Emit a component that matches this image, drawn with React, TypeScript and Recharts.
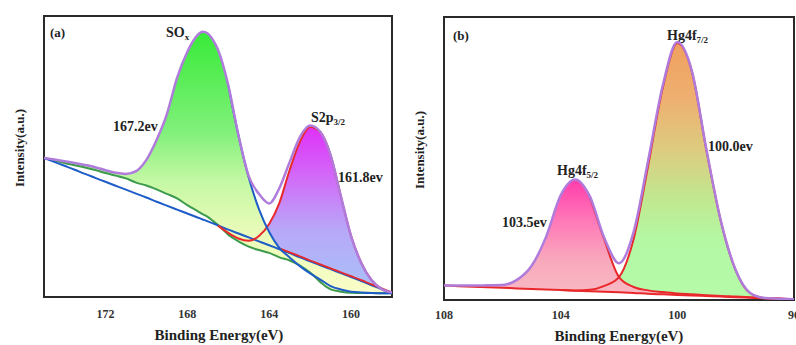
import React from 'react';
import { ComposedChart, Area, Line, XAxis, YAxis, ReferenceArea } from 'recharts';

// ---------- Panel (a): S 2p ----------
const energyA = [175, 174.5, 174, 173.5, 173, 172.5, 172, 171.5, 171, 170.5, 170, 169.5, 169, 168.5, 168, 167.75, 167.5, 167.25, 167, 166.75, 166.5, 166, 165.5, 165, 164.5, 164, 163.5, 163, 162.5, 162, 161.5, 161, 160.5, 160, 159.5, 159, 158.5, 158];
const envelopeA = [49.5, 48.9, 48.3, 47.7, 47.0, 46.2, 45.1, 44.2, 43.8, 44.8, 48.8, 55.9, 65.0, 78.0, 87.2, 90.7, 93.2, 94.4, 93.8, 91.5, 88.0, 75.4, 57.5, 43.0, 36.7, 33.3, 38.8, 48.0, 56.9, 61.0, 58.7, 50.5, 35.9, 21.7, 12.1, 6.0, 2.8, 1.6];
const baselineA = [49.5, 48.1, 46.7, 45.3, 43.8, 42.4, 41.0, 39.6, 38.2, 36.8, 35.4, 33.9, 32.5, 31.1, 29.7, 29.0, 28.3, 27.6, 26.9, 26.2, 25.5, 24.0, 22.6, 21.2, 19.8, 18.4, 17.0, 15.6, 14.1, 12.7, 11.3, 9.9, 8.5, 7.1, 5.7, 4.2, 2.8, 1.4];
const greenBgA = [49.5, 48.6, 47.7, 46.9, 46.1, 45.2, 44.1, 43.2, 42.2, 40.7, 39.7, 38.3, 36.7, 35.1, 32.7, 31.6, 30.6, 29.5, 28.5, 27.1, 25.6, 22.2, 19.8, 17.9, 16.7, 15.7, 14.1, 13.0, 11.2, 8.7, 5.3, 2.7, 1.9, 1.5, 1.4, 1.4, 1.35, 1.3];
const soxA = [49.5, 48.9, 48.3, 47.7, 47.0, 46.2, 45.1, 44.2, 43.8, 44.8, 48.8, 55.9, 65.0, 78.0, 87.2, 90.7, 93.2, 94.4, 93.8, 91.5, 88.0, 75.4, 57.5, 42.5, 31.3, 23.1, 17.4, 14.1, 11.0, 8.4, 6.2, 3.9, 2.7, 1.9, 1.6, 1.4, 1.35, 1.3];
const s2pA = [null, null, null, null, null, null, null, null, null, null, null, null, null, null, null, null, null, null, null, null, 25.4, 22.8, 20.8, 20.0, 21.7, 26.0, 33.5, 45.2, 55.2, 60.5, 58.7, 50.5, 35.9, 21.7, 12.1, 6.0, 2.8, 1.6];
const s2pBgA = [null, null, null, null, null, null, null, null, null, null, null, null, null, null, null, null, null, null, null, null, null, null, null, null, null, null, 17.3, 15.9, 14.5, 13.0, 11.6, 10.2, 8.8, 7.4, 6.0, 4.5, 3.1, 1.6];
const ticksA = [172, 168, 164, 160];

// ---------- Panel (b): Hg 4f ----------
const energyB = [108, 107.5, 107, 106.5, 106, 105.5, 105, 104.5, 104, 103.5, 103, 102.5, 102, 101.5, 101, 100.5, 100, 99.5, 99, 98.5, 98, 97.5, 97, 96.5, 96];
const envelopeB = [5.1, 5.1, 5.1, 5.2, 5.3, 7.1, 12.0, 22.3, 37.0, 42.6, 36.6, 21.8, 13.0, 24.0, 49.3, 75.8, 91.2, 80.9, 53.0, 27.6, 10.6, 2.5, 0.7, 0.45, 0.25];
const baselineB = [5.1, 4.9, 4.7, 4.5, 4.3, 4.1, 3.9, 3.7, 3.5, 3.3, 3.1, 2.9, 2.7, 2.5, 2.2, 2.0, 1.8, 1.6, 1.4, 1.2, 1.0, 0.8, 0.6, 0.4, 0.2];
const hg52B = [5.1, 5.1, 5.1, 5.2, 5.3, 7.1, 12.0, 22.3, 37.0, 42.6, 36.6, 21.2, 8.1, 4.6, 3.4, 2.8, 2.3, 2.0, 1.7, 1.4, 1.2, 0.95, 0.7, 0.5, 0.3];
const hg72B = [null, null, null, null, null, null, null, null, 3.55, 3.4, 3.6, 5.0, 8.1, 21.5, 47.5, 75.0, 90.8, 80.7, 52.8, 27.5, 10.5, 2.4, 0.65, 0.4, 0.2];
const ticksB = [108, 104, 100, 96];

const FONT = '"Liberation Serif", "Times New Roman", serif';
const PURPLE = '#b07cdc';
const BLUE = '#1e5cc8';
const GREEN = '#3c9a4c';
const RED = '#e8282a';
const FRAME = '#2a2a2a';

const rowsA = energyA.map((e, i) => ({
  e,
  env: envelopeA[i],
  base: baselineA[i],
  green: greenBgA[i],
  soxLine: e <= 166 ? soxA[i] : null,
  s2p: s2pA[i],
  s2pBg: s2pBgA[i],
  soxFill: [greenBgA[i], Math.max(soxA[i], baselineA[i])],
  s2pFill: s2pA[i] == null ? null : [baselineA[i], s2pA[i]],
}));

const rowsB = energyB.map((e, i) => ({
  e,
  env: envelopeB[i],
  base: baselineB[i],
  hg52Line: e <= 103 ? hg52B[i] : null,
  hg72: hg72B[i],
  hg52Fill: [baselineB[i], hg52B[i]],
  hg72Fill: hg72B[i] == null ? null : [baselineB[i], hg72B[i]],
}));

const tickStyle = { fontSize: 12, fontWeight: 'bold', fill: '#333', fontFamily: FONT };
const txt = { fontFamily: FONT, fontWeight: 'bold', fill: '#222' } as const;

function PanelA() {
  return (
    <ComposedChart width={400} height={345} data={rowsA} margin={{ top: 16, right: 8, bottom: 18, left: 44 }}>
      <defs>
        <linearGradient id="gSox" x1="0" y1="0" x2="0" y2="1">
          <stop offset="0%" stopColor="#38ea38" />
          <stop offset="38%" stopColor="#80f07a" />
          <stop offset="57%" stopColor="#c4f8a4" />
          <stop offset="76%" stopColor="#e8fbb8" />
          <stop offset="100%" stopColor="#fafdc8" />
        </linearGradient>
        <linearGradient id="gS2p" x1="0" y1="0" x2="0" y2="1">
          <stop offset="0%" stopColor="#e030f8" />
          <stop offset="33%" stopColor="#d070f8" />
          <stop offset="62%" stopColor="#b8a8f8" />
          <stop offset="100%" stopColor="#a8c2f8" />
        </linearGradient>
      </defs>
      <XAxis dataKey="e" type="number" domain={[158, 175]} reversed ticks={ticksA} interval={0}
        tickLine={false} axisLine={false} tickSize={0} tickMargin={12} height={30} tick={tickStyle} allowDataOverflow />
      <YAxis type="number" domain={[0, 100]} hide allowDataOverflow />
      <Area dataKey="s2pFill" type="monotone" stroke="none" fill="url(#gS2p)" fillOpacity={1} isAnimationActive={false} />
      <Area dataKey="soxFill" type="monotone" stroke="none" fill="url(#gSox)" fillOpacity={1} isAnimationActive={false} />
      <Line dataKey="green" type="monotone" stroke={GREEN} strokeWidth={2} dot={false} isAnimationActive={false} />
      <Line dataKey="base" type="monotone" stroke={BLUE} strokeWidth={2} dot={false} isAnimationActive={false} />
      <Line dataKey="s2pBg" type="monotone" stroke={RED} strokeWidth={1.8} dot={false} isAnimationActive={false} />
      <Line dataKey="s2p" type="monotone" stroke={RED} strokeWidth={2} dot={false} isAnimationActive={false} />
      <Line dataKey="soxLine" type="monotone" stroke={BLUE} strokeWidth={2} dot={false} isAnimationActive={false} />
      <Line dataKey="env" type="monotone" stroke={PURPLE} strokeWidth={2.5} dot={false} isAnimationActive={false} />
      <ReferenceArea x1={175} x2={158} y1={0} y2={100} fill="none" stroke={FRAME} strokeWidth={2} ifOverflow="visible" />
      <text x={50} y={37} fontSize={13} {...txt}>(a)</text>
      <text x={166} y={37} fontSize={14} {...txt}>SO<tspan fontSize={9} dy={3}>x</tspan></text>
      <text x={113} y={131} fontSize={14} {...txt}>167.2ev</text>
      <text x={311} y={122} fontSize={14} {...txt}>S2p<tspan fontSize={9} dy={3}>3/2</tspan></text>
      <text x={338} y={182} fontSize={14} {...txt}>161.8ev</text>
      <text x={19} y={148} fontSize={13} textAnchor="middle" dominantBaseline="central" transform="rotate(-90, 19, 148)" {...txt}>Intensity(a.u.)</text>
      <text x={219} y={340} fontSize={15} textAnchor="middle" {...txt}>Binding Energy(eV)</text>
    </ComposedChart>
  );
}

function PanelB() {
  return (
    <ComposedChart width={396} height={345} data={rowsB} margin={{ top: 17, right: 2, bottom: 15, left: 44 }}>
      <defs>
        <linearGradient id="gHg72" x1="0" y1="0" x2="0" y2="1">
          <stop offset="0%" stopColor="#f0a060" />
          <stop offset="22%" stopColor="#eeb070" />
          <stop offset="42%" stopColor="#dccc80" />
          <stop offset="61%" stopColor="#c0e890" />
          <stop offset="77%" stopColor="#b4f8a4" />
          <stop offset="100%" stopColor="#b4fba8" />
        </linearGradient>
        <linearGradient id="gHg52" x1="0" y1="0" x2="0" y2="1">
          <stop offset="0%" stopColor="#ff3cac" />
          <stop offset="34%" stopColor="#ff78b8" />
          <stop offset="67%" stopColor="#f8a8bc" />
          <stop offset="100%" stopColor="#f8bcc4" />
        </linearGradient>
      </defs>
      <XAxis dataKey="e" type="number" domain={[96, 108]} reversed ticks={ticksB} interval={0}
        tickLine={false} axisLine={false} tickSize={0} tickMargin={10} height={30} tick={tickStyle} allowDataOverflow />
      <YAxis type="number" domain={[0, 100]} hide allowDataOverflow />
      <Area dataKey="hg72Fill" type="monotone" stroke="none" fill="url(#gHg72)" fillOpacity={1} isAnimationActive={false} />
      <Area dataKey="hg52Fill" type="monotone" stroke="none" fill="url(#gHg52)" fillOpacity={1} isAnimationActive={false} />
      <Line dataKey="base" type="monotone" stroke={RED} strokeWidth={2} dot={false} isAnimationActive={false} />
      <Line dataKey="hg52Line" type="monotone" stroke={RED} strokeWidth={2} dot={false} isAnimationActive={false} />
      <Line dataKey="hg72" type="monotone" stroke={RED} strokeWidth={2} dot={false} isAnimationActive={false} />
      <Line dataKey="env" type="monotone" stroke={PURPLE} strokeWidth={2.5} dot={false} isAnimationActive={false} />
      <ReferenceArea x1={108} x2={96} y1={0} y2={100} fill="none" stroke={FRAME} strokeWidth={2} ifOverflow="visible" />
      <text x={53} y={40} fontSize={13} {...txt}>(b)</text>
      <text x={267} y={40} fontSize={14} {...txt}>Hg4f<tspan fontSize={9} dy={3}>7/2</tspan></text>
      <text x={308} y={151} fontSize={14} {...txt}>100.0ev</text>
      <text x={157} y={175} fontSize={14} {...txt}>Hg4f<tspan fontSize={9} dy={3}>5/2</tspan></text>
      <text x={102} y={227} fontSize={14} {...txt}>103.5ev</text>
      <text x={19} y={150} fontSize={13} textAnchor="middle" dominantBaseline="central" transform="rotate(-90, 19, 150)" {...txt}>Intensity(a.u.)</text>
      <text x={219} y={341} fontSize={15} textAnchor="middle" {...txt}>Binding Energy(eV)</text>
    </ComposedChart>
  );
}

export default function App() {
  return (
    <div style={{ position: 'absolute', left: 0, top: 0, width: 796, height: 345, background: '#fff', overflow: 'hidden' }}>
      <div style={{ position: 'absolute', left: 0, top: 0 }}>
        <PanelA />
      </div>
      <div style={{ position: 'absolute', left: 400, top: 0 }}>
        <PanelB />
      </div>
    </div>
  );
}
